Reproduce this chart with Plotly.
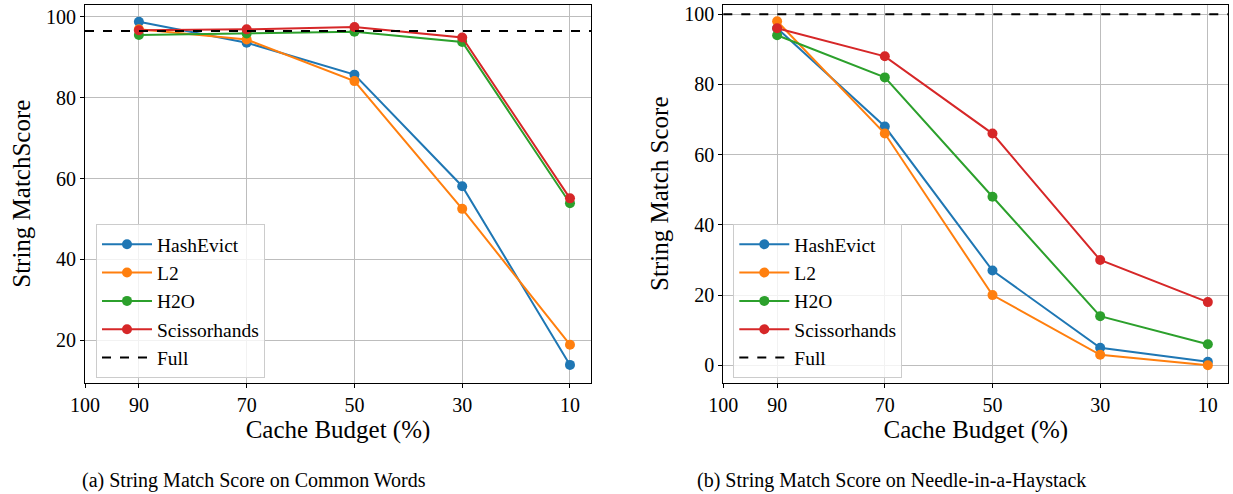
import plotly.graph_objects as go

# ---------------- data ----------------
budgets = [90, 70, 50, 30, 10]
x_ticks = [100, 90, 70, 50, 30, 10]

series_names = ["HashEvict", "L2", "H2O", "Scissorhands"]
colors = ["#1f77b4", "#ff7f0e", "#2ca02c", "#d62728"]

# (a) Common Words
cw_hashevict = [98.8, 93.6, 85.7, 58.1, 13.9]
cw_l2 = [96.9, 94.4, 84.1, 52.5, 18.9]
cw_h2o = [95.5, 95.9, 96.3, 93.8, 53.9]
cw_scissor = [96.7, 96.9, 97.5, 94.9, 55.1]
cw_full = 96.5

# (b) Needle-in-a-Haystack
nh_hashevict = [96, 68, 27, 5, 1]
nh_l2 = [98, 66, 20, 3, 0]
nh_h2o = [94, 82, 48, 14, 6]
nh_scissor = [96, 88, 66, 30, 18]
nh_full = 100

caption_a = "(a) String Match Score on Common Words"
caption_b = "(b) String Match Score on Needle-in-a-Haystack"

# ---------------- figure ----------------
W, H = 1233, 494
FONT = "Liberation Serif"

fig = go.Figure()

panels = [
    ("x", "y", "legend", [cw_hashevict, cw_l2, cw_h2o, cw_scissor], cw_full),
    ("x2", "y2", "legend2", [nh_hashevict, nh_l2, nh_h2o, nh_scissor], nh_full),
]

for xa, ya, leg, vals, full in panels:
    for name, col, v in zip(series_names, colors, vals):
        fig.add_trace(go.Scatter(
            x=budgets, y=v, name=name, mode="lines+markers",
            line=dict(color=col, width=2),
            marker=dict(color=col, size=10),
            xaxis=xa, yaxis=ya, legend=leg,
        ))
    fig.add_shape(
        type="line", xref=f"{xa} domain", yref=ya, x0=0, x1=1, y0=full, y1=full,
        line=dict(color="black", width=2, dash="dash"),
        showlegend=True, name="Full", legend=leg, legendrank=2000, layer="above",
    )

def px_x(p):
    return p / W

def px_y(p):
    return 1 - p / H

y_dom = [px_y(382.7), px_y(4.7)]

axis_common = dict(
    showline=True, linecolor="black", linewidth=1.2, mirror=True,
    ticks="outside", ticklen=4, tickwidth=1, tickcolor="black",
    showgrid=True, gridcolor="#bdbdbd", gridwidth=1.2,
    zeroline=False, automargin=False,
    tickfont=dict(family=FONT, size=20, color="black"),
)

legend_common = dict(
    xanchor="left", yanchor="top",
    bgcolor="rgba(255,255,255,0.8)", bordercolor="#cccccc", borderwidth=1,
    itemwidth=50,
    font=dict(family=FONT, size=19.5, color="black"),
)

fig.update_layout(
    width=W, height=H,
    margin=dict(l=0, r=0, t=0, b=0, autoexpand=False),
    paper_bgcolor="white", plot_bgcolor="white",
    font=dict(family=FONT, color="black"),
    xaxis=dict(domain=[px_x(85), px_x(591)], anchor="y", range=[100, 6.1],
               tickvals=x_ticks, ticktext=[str(t) for t in x_ticks],
               title=dict(text="Cache Budget (%)", font=dict(family=FONT, size=25), standoff=3),
               **axis_common),
    yaxis=dict(domain=y_dom, anchor="x", range=[9.5, 103.0],
               tickvals=[20, 40, 60, 80, 100],
               title=dict(text="String MatchScore", font=dict(family=FONT, size=25), standoff=8),
               **axis_common),
    xaxis2=dict(domain=[px_x(723.3), px_x(1228.3)], anchor="y2", range=[100, 6.2],
                tickvals=x_ticks, ticktext=[str(t) for t in x_ticks],
                title=dict(text="Cache Budget (%)", font=dict(family=FONT, size=25), standoff=3),
                **axis_common),
    yaxis2=dict(domain=y_dom, anchor="x2", range=[-4.95, 102.7],
                tickvals=[0, 20, 40, 60, 80, 100],
                title=dict(text="String Match Score", font=dict(family=FONT, size=25), standoff=8),
                **axis_common),
    legend=dict(x=px_x(96), y=px_y(224), **legend_common),
    legend2=dict(x=px_x(733.3), y=px_y(224), **legend_common),
    annotations=[
        dict(text=caption_a, x=px_x(254), y=px_y(480), xref="paper", yref="paper",
             showarrow=False, xanchor="center", yanchor="middle",
             font=dict(family=FONT, size=20, color="black")),
        dict(text=caption_b, x=px_x(891), y=px_y(480), xref="paper", yref="paper",
             showarrow=False, xanchor="center", yanchor="middle",
             font=dict(family=FONT, size=20, color="black")),
    ],
)

fig.write_html("out.html", config={"displayModeBar": False},
               post_script="document.body.style.margin='0';")
